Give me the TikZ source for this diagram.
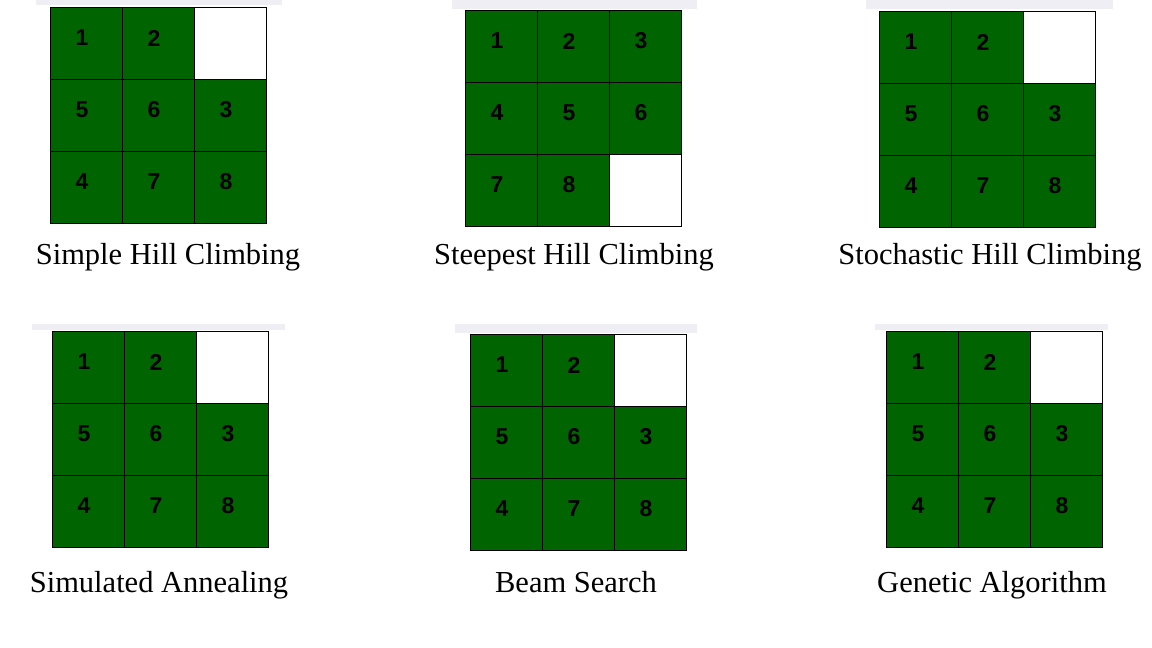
\documentclass[tikz,border=0pt]{standalone}
\usepackage{fontspec}
\setmainfont{Liberation Serif}
\newfontfamily\numfont{Liberation Sans}
\definecolor{tilegreen}{RGB}{0,100,0}
\definecolor{stripgray}{RGB}{238,238,244}
\tikzset{
  cell/.style={draw=black, line width=0.8pt, minimum size=72pt, inner sep=0pt},
  tile/.style={cell, fill=tilegreen, label={[num]center:#1}},
  blank/.style={cell, fill=white},
  num/.style={font=\numfont\bfseries\fontsize{23}{23}\selectfont, xshift=-4pt, yshift=5pt, inner sep=0pt},
  caption/.style={font=\fontsize{30.5}{30.5}\selectfont, anchor=base, inner sep=0pt}
}
\begin{document}
\begin{tikzpicture}[x=1pt,y=-1pt]
            \useasboundingbox[fill=white] (0,0) rectangle (1152,648);

            % faint strips above the grids
            \fill[stripgray] (36,0) rectangle (282,5);
            \fill[stripgray] (452,0) rectangle (697,9);
            \fill[stripgray] (866,0) rectangle (1113,9);
            \fill[stripgray] (32,324) rectangle (285,330);
            \fill[stripgray] (455,324) rectangle (697,333);
            \fill[stripgray] (875,324) rectangle (1108,330);

            % simple hill climbing
            \node[tile=1] (sa1) at (86,43) {};
            \node[tile=2] (sa2) at (158,43) {};
            \node[blank] (sa3) at (230,43) {};
            \node[tile=5] (sa4) at (86,115) {};
            \node[tile=6] (sa5) at (158,115) {};
            \node[tile=3] (sa6) at (230,115) {};
            \node[tile=4] (sa7) at (86,187) {};
            \node[tile=7] (sa8) at (158,187) {};
            \node[tile=8] (sa9) at (230,187) {};
            \node[caption] (simple) at (168,264) {Simple Hill Climbing};

            % steepest hill climbing
            \node[tile=1] (st1) at (501,46) {};
            \node[tile=2] (st2) at (573,46) {};
            \node[tile=3] (st3) at (645,46) {};
            \node[tile=4] (st4) at (501,118) {};
            \node[tile=5] (st5) at (573,118) {};
            \node[tile=6] (st6) at (645,118) {};
            \node[tile=7] (st7) at (501,190) {};
            \node[tile=8] (st8) at (573,190) {};
            \node[blank] (st9) at (645,190) {};
            \node[caption] (steepest) at (574,264) {Steepest Hill Climbing};

            % stochastic hill climbing
            \node[tile=1] (so1) at (915,47) {};
            \node[tile=2] (so2) at (987,47) {};
            \node[blank] (so3) at (1059,47) {};
            \node[tile=5] (so4) at (915,119) {};
            \node[tile=6] (so5) at (987,119) {};
            \node[tile=3] (so6) at (1059,119) {};
            \node[tile=4] (so7) at (915,191) {};
            \node[tile=7] (so8) at (987,191) {};
            \node[tile=8] (so9) at (1059,191) {};
            \node[caption] (stochastic) at (990,264) {Stochastic Hill Climbing};

            % simulated annealing
            \node[tile=1] (an1) at (88,367) {};
            \node[tile=2] (an2) at (160,367) {};
            \node[blank] (an3) at (232,367) {};
            \node[tile=5] (an4) at (88,439) {};
            \node[tile=6] (an5) at (160,439) {};
            \node[tile=3] (an6) at (232,439) {};
            \node[tile=4] (an7) at (88,511) {};
            \node[tile=7] (an8) at (160,511) {};
            \node[tile=8] (an9) at (232,511) {};
            \node[caption] (annealing) at (159,592) {Simulated Annealing};

            % beam search
            \node[tile=1] (bs1) at (506,370) {};
            \node[tile=2] (bs2) at (578,370) {};
            \node[blank] (bs3) at (650,370) {};
            \node[tile=5] (bs4) at (506,442) {};
            \node[tile=6] (bs5) at (578,442) {};
            \node[tile=3] (bs6) at (650,442) {};
            \node[tile=4] (bs7) at (506,514) {};
            \node[tile=7] (bs8) at (578,514) {};
            \node[tile=8] (bs9) at (650,514) {};
            \node[caption] (beam) at (576,592) {Beam Search};

            % genetic algorithm
            \node[tile=1] (ga1) at (922,367) {};
            \node[tile=2] (ga2) at (994,367) {};
            \node[blank] (ga3) at (1066,367) {};
            \node[tile=5] (ga4) at (922,439) {};
            \node[tile=6] (ga5) at (994,439) {};
            \node[tile=3] (ga6) at (1066,439) {};
            \node[tile=4] (ga7) at (922,511) {};
            \node[tile=7] (ga8) at (994,511) {};
            \node[tile=8] (ga9) at (1066,511) {};
            \node[caption] (genetic) at (992,592) {Genetic Algorithm};
        \end{tikzpicture}
\end{document}
